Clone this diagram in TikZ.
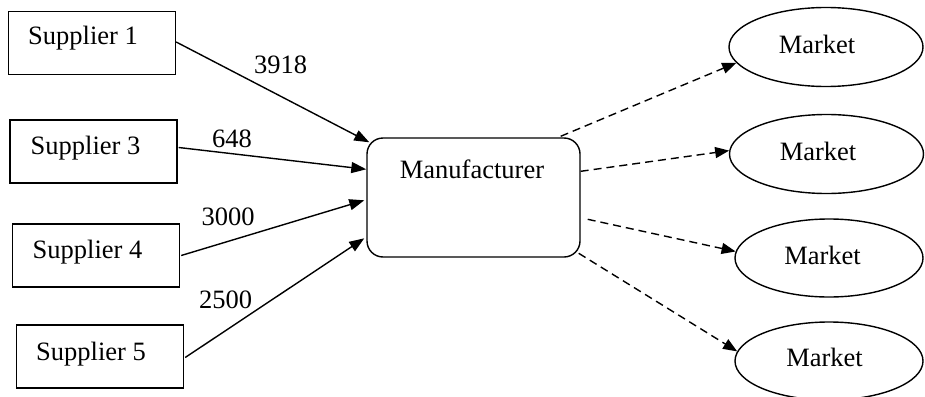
\documentclass[tikz,border=0pt]{standalone}
\usepackage{fontspec}
\setmainfont{Liberation Serif}
\usetikzlibrary{shapes.geometric,arrows.meta,calc}
\begin{document}
\begin{tikzpicture}[x=1pt,y=-1pt,line width=1.4pt,
  sbox/.style={draw,rectangle,inner sep=0pt,minimum width=167pt,minimum height=63pt},
  mbox/.style={draw,rectangle,rounded corners=16pt,inner sep=0pt,minimum width=213pt,minimum height=119pt},
  mkt/.style={draw,ellipse,inner sep=0pt,minimum width=194pt,minimum height=79pt},
  txt/.style={anchor=base,inner sep=0pt,font=\fontsize{26.5}{30}\selectfont},
  solidarrow/.style={-{Triangle[length=15pt,width=11pt]}},
  dasharrow/.style={-{Triangle[length=14pt,width=11pt]},dash pattern=on 8pt off 5pt}]
\useasboundingbox (0,0) rectangle (925,396);
% suppliers
\node[sbox] (s1) at (92,43) {};
\node[sbox] (s3) at (93.5,151.5) {};
\node[sbox] (s4) at (96,255.5) {};
\node[sbox] (s5) at (100,356.5) {};
\node[txt] (t1) at (83,45) {Supplier 1};
\node[txt] (t3) at (85.5,154) {Supplier 3};
\node[txt] (t4) at (87.5,258) {Supplier 4};
\node[txt] (t5) at (91,360) {Supplier 5};
% manufacturer
\node[mbox] (m) at (473.5,197.5) {};
\node[txt] (tm) at (472,178) {Manufacturer};
% markets
\node[mkt] (k1) at (826,47) {};
\node[mkt] (k2) at (826.5,154) {};
\node[mkt,minimum width=188pt,minimum height=78pt] (k3) at (829,258) {};
\node[mkt,minimum width=188pt,minimum height=78pt] (k4) at (829,361) {};
\node[txt] (tk1) at (817,53) {Market};
\node[txt] (tk2) at (818,160) {Market};
\node[txt] (tk3) at (822.5,264) {Market};
\node[txt] (tk4) at (824.5,366) {Market};
% entry points on manufacturer
\coordinate (i1) at ($(m.north west)+(3,5)$);
\coordinate (i3) at ($(m.north west)+(0,32)$);
\coordinate (i4) at ($(m.north west)+(-2,63)$);
\coordinate (i5) at ($(m.north west)+(-2,101)$);
\coordinate (o1) at ($(m.north east)+(-20,-1)$);
\coordinate (o2) at ($(m.north east)+(0,34)$);
\coordinate (o3) at ($(m.north east)+(7,82)$);
\coordinate (o4) at ($(m.north east)+(-2,116)$);
% supplier arrows
\draw[solidarrow] ($(s1.east)+(0,-1)$) -- (i1);
\draw[solidarrow] ($(s3.east)+(1,-4)$) -- (i3);
\draw[solidarrow] ($(s4.east)+(1,0)$) -- (i4);
\draw[solidarrow] ($(s5.east)+(1,1)$) -- (i5);
% labels
\node[txt] (l1) at (280.5,73) {3918};
\node[txt] (l3) at (232,147) {648};
\node[txt] (l4) at (228,225) {3000};
\node[txt] (l5) at (225.5,308) {2500};
% market arrows
\draw[dasharrow] (o1) -- (k1.190);
\draw[dasharrow] (o2) -- (k2.178);
\draw[dasharrow] (o3) -- (k3.176);
\draw[dasharrow] (o4) -- (k4.174);
\end{tikzpicture}
\end{document}
